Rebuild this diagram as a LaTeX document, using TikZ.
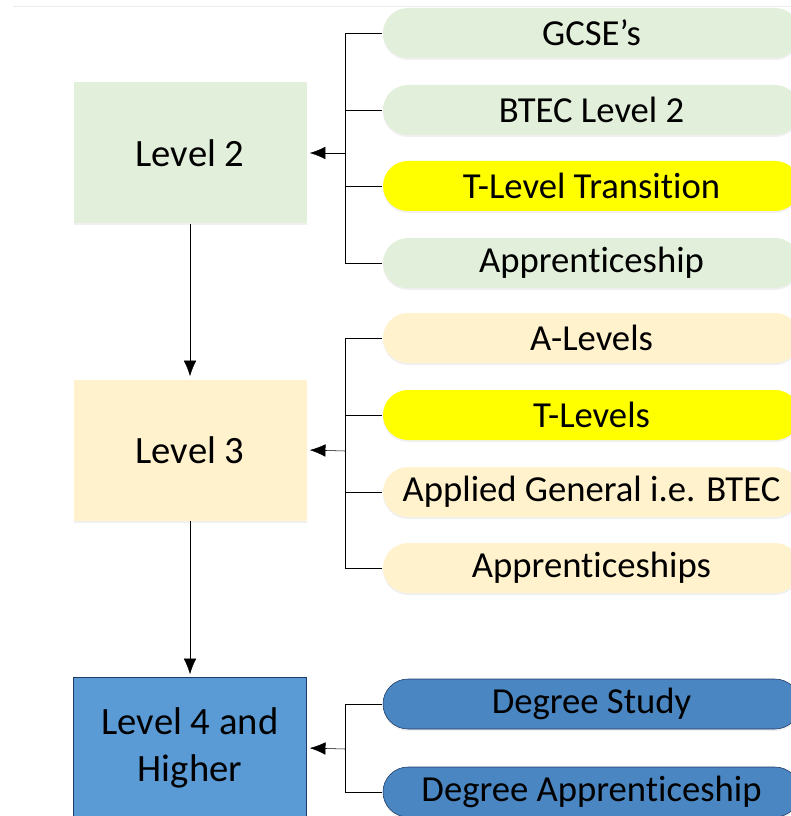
\documentclass[tikz,border=0pt]{standalone}
\usepackage{fontspec}
\setmainfont{Carlito}[Ligatures={TeX,NoCommon,NoRequired,NoContextual,NoRare}]
\usetikzlibrary{arrows.meta,shadows}
\definecolor{lvgreen}{HTML}{E2EFDA}
\definecolor{lvpeach}{HTML}{FFF2CC}
\definecolor{lvyellow}{HTML}{FFFF00}
\definecolor{lvblue}{HTML}{5B9BD5}
\definecolor{lvdeep}{HTML}{4A86C1}
\definecolor{lvnavy}{HTML}{203864}

\begin{document}
\begin{tikzpicture}
                \tikzset{x=0.75pt, y=-0.75pt, line width=1.3pt}
                \tikzstyle{feed}=[-{Latex[length=14pt,width=11pt]}]
                \tikzstyle{level}=[rectangle, minimum width=174.75pt, minimum height=105.75pt, align=center, font=\fontsize{29}{35}\selectfont, drop shadow={shadow xshift=0pt, shadow yshift=-1.5pt, opacity=0.12}]
                \tikzstyle{route}=[rectangle, rounded corners=18.75pt, minimum width=312.75pt, minimum height=37.5pt, font=\fontsize{27.5}{33}\selectfont, drop shadow={shadow xshift=0pt, shadow yshift=-1.5pt, opacity=0.12}]

                % frame
                \useasboundingbox (0,0) rectangle (791,816);
                \clip (0,0) rectangle (791,816);
                \draw[gray!15, line width=0.75pt] (13,7) -- (791,7);

                % levels
                \draw (190,153)     node[level, fill=lvgreen]   (l2)    {Level 2};
                \draw (190,450)     node[level, fill=lvpeach]   (l3)    {Level 3};
                \draw (190,748)     node[level, fill=lvblue, draw=lvnavy]  (l4)    {Level 4 and\\Higher};

                % level 2 routes
                \draw (591.5,33)    node[route, fill=lvgreen]   (gcse)  {GCSE’s};
                \draw (591.5,110)   node[route, fill=lvgreen]   (btec)  {BTEC Level 2};
                \draw (591.5,186)   node[route, fill=lvyellow]  (tlt)   {T-Level Transition};
                \draw (591.5,263)   node[route, fill=lvgreen]   (app)   {Apprenticeship};

                % level 3 routes
                \draw (591.5,338)   node[route, fill=lvpeach]   (alev)  {A-Levels};
                \draw (591.5,415)   node[route, fill=lvyellow]  (tlev)  {T-Levels};
                \draw (591.5,492)   node[route, fill=lvpeach]   (appg)  {Applied General i.e. BTEC};
                \draw (591.5,568)   node[route, fill=lvpeach]   (apps)  {Apprenticeships};

                % level 4 routes
                \draw (591.5,704)   node[route, fill=lvdeep, draw=lvnavy]  (deg)   {Degree Study};
                \draw (591.5,792)   node[route, fill=lvdeep, draw=lvnavy]  (dapp)  {Degree Apprenticeship};

                % bracket joints
                \coordinate (b2) at (345,153);
                \coordinate (b3) at (345,451);
                \coordinate (b4) at (345,749);

                % bracket lines
                \draw (gcse.west) -| (b2);
                \draw (btec.west) -| (b2);
                \draw (tlt.west)  -| (b2);
                \draw (app.west)  -| (b2);
                \draw (alev.west) -| (b3);
                \draw (tlev.west) -| (b3);
                \draw (appg.west) -| (b3);
                \draw (apps.west) -| (b3);
                \draw (deg.west)  -| (b4);
                \draw (dapp.west) -| (b4);

                % arrows into levels
                \draw [feed]        (b2) -- (l2.east);
                \draw [feed]        (b3) -- (l3.east);
                \draw [feed]        (b4) -- (l4.east);
                \draw [feed]        (l2) -- (l3);
                \draw [feed]        (l3) -- (l4);
\end{tikzpicture}
\end{document}
